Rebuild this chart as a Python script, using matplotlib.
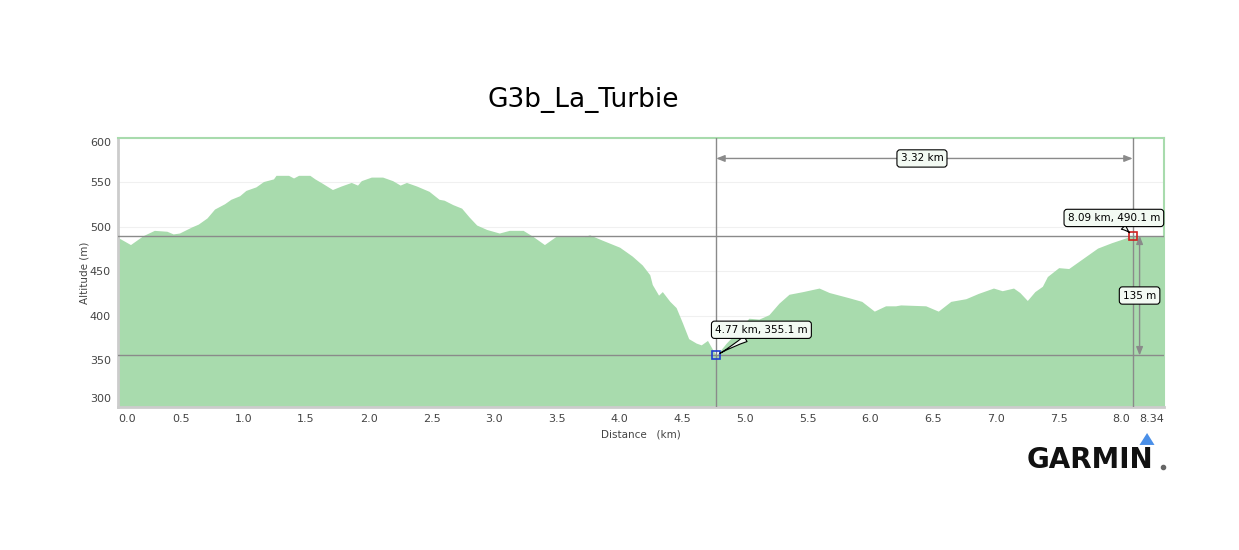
import matplotlib.pyplot as plt
from matplotlib.patches import Polygon

# Elevation profile
dist_km = [0.00, 0.10, 0.20, 0.29, 0.39, 0.44, 0.49, 0.59, 0.64, 0.71, 0.77, 0.85,
           0.90, 0.97, 1.02, 1.10, 1.16, 1.24, 1.26, 1.36, 1.40, 1.44, 1.53, 1.57,
           1.63, 1.71, 1.78, 1.86, 1.91, 1.94, 2.02, 2.11, 2.19, 2.25, 2.30, 2.38,
           2.48, 2.56, 2.60, 2.67, 2.74, 2.80, 2.86, 2.94, 3.04, 3.12, 3.23, 3.31,
           3.40, 3.49, 3.65, 3.72, 3.76, 3.86, 4.00, 4.10, 4.18, 4.24, 4.26, 4.31,
           4.34, 4.40, 4.45, 4.50, 4.55, 4.61, 4.65, 4.70, 4.74, 4.77, 4.85, 4.95,
           5.03, 5.11, 5.19, 5.27, 5.35, 5.46, 5.59, 5.67, 5.83, 5.93, 6.03, 6.12,
           6.20, 6.24, 6.44, 6.54, 6.64, 6.76, 6.86, 6.98, 7.05, 7.14, 7.19, 7.25,
           7.31, 7.37, 7.41, 7.50, 7.58, 7.66, 7.74, 7.81, 7.92, 8.09, 8.16, 8.34]
alt_m = [488, 480, 490, 496, 495, 492, 493, 500, 503, 510, 520, 526,
         531, 535, 541, 545, 551, 554, 558, 558, 555, 558, 558, 554,
         549, 542, 546, 550, 547, 552, 556, 556, 552, 547, 550, 546,
         540, 531, 530, 525, 521, 511, 502, 497, 493, 496, 496, 489,
         480, 489, 489, 489, 491, 485, 477, 467, 457, 446, 435, 423,
         427, 416, 409, 392, 374, 369, 367, 372, 362, 355.1, 369, 384,
         397, 396, 401, 414, 424, 427, 431, 426, 420, 416, 405, 411,
         411, 412, 411, 405, 416, 419, 425, 431, 428, 431, 426, 417,
         427, 433, 444, 454, 453, 461, 469, 476, 482, 490.1, 489, 489]

x_ticks = [0.0, 0.5, 1.0, 1.5, 2.0, 2.5, 3.0, 3.5, 4.0, 4.5, 5.0, 5.5, 6.0, 6.5,
           7.0, 7.5, 8.0, 8.34]
y_ticks = [300, 350, 400, 450, 500, 550, 600]

# Measurement between the two selected points
start_km, start_alt = 4.77, 355.1
end_km, end_alt = 8.09, 490.1

FILL_COLOR = '#a8dbad'
GUIDE_COLOR = '#8a8a8a'
BOX_COLOR = '#f3faf3'

plt.rcParams['font.family'] = ['DejaVu Sans']

fig = plt.figure(figsize=(12.39, 5.5), dpi=100)
ax = fig.add_axes([0.0952, 0.26, 0.8443, 0.489])

ax.fill_between(dist_km, alt_m, 290, color=FILL_COLOR, lw=0)
ax.set_xlim(0, 8.34)
ax.set_ylim(297, 600)

ax.set_xticks(x_ticks)
ax.set_xticklabels([f'{t:.1f}' if t != 8.34 else '8.34' for t in x_ticks])
ax.set_yticks(y_ticks)
ax.tick_params(length=0, labelsize=8, labelcolor='#444444', pad=5)
# keep the end labels inside the plot span, as in the original
xl = ax.get_xticklabels()
xl[0].set_ha('left')
xl[-1].set_ha('right')
yl = ax.get_yticklabels()
yl[0].set_va('bottom')
yl[-1].set_va('top')

ax.yaxis.grid(True, color='#f0f0f0', lw=0.8)
ax.set_axisbelow(True)

for side in ['left', 'bottom']:
    ax.spines[side].set_color('#cccccc')
    ax.spines[side].set_linewidth(2)
for side in ['top', 'right']:
    ax.spines[side].set_color(FILL_COLOR)
    ax.spines[side].set_linewidth(1.5)

ax.set_xlabel('Distance   (km)', fontsize=7.5, color='#444444', labelpad=4)
ax.set_ylabel('Altitude (m)', fontsize=7.5, color='#444444', labelpad=0)

# Cross-hair guides
for xv in [start_km, end_km]:
    ax.axvline(xv, color=GUIDE_COLOR, lw=1, zorder=3)
for yv in [start_alt, end_alt]:
    ax.axhline(yv, color=GUIDE_COLOR, lw=1, zorder=3)

# Point markers
ax.plot(start_km, start_alt, 's', ms=6, mfc='none', mec='#1f3fd0', mew=1.2, zorder=5)
ax.plot(end_km, end_alt, 's', ms=6, mfc='none', mec='#d02020', mew=1.2, zorder=5)

box = dict(boxstyle='round,pad=0.35,rounding_size=0.3', fc=BOX_COLOR, ec='black', lw=0.8)
wedge = dict(arrowstyle='wedge,tail_width=0.6,shrink_factor=0.3', fc=BOX_COLOR,
             ec='black', lw=0.8, shrinkA=0, shrinkB=3)

ax.annotate(f'{start_km:.2f} km, {start_alt:.1f} m', xy=(start_km, start_alt),
            xytext=(5.13, 384), ha='center', va='center', fontsize=7.5,
            bbox=box, arrowprops=wedge, zorder=6)
ax.annotate(f'{end_km:.2f} km, {end_alt:.1f} m', xy=(end_km, end_alt),
            xytext=(7.94, 510), ha='center', va='center', fontsize=7.5,
            bbox=box, arrowprops=wedge, zorder=6)

# Distance dimension
dim_y = 577
ax.annotate('', xy=(start_km, dim_y), xytext=(end_km, dim_y),
            arrowprops=dict(arrowstyle='<|-|>,head_length=0.5,head_width=0.2',
                            color=GUIDE_COLOR, lw=1, shrinkA=0, shrinkB=0), zorder=4)
ax.text((start_km + end_km) / 2 - 0.02, dim_y, f'{end_km - start_km:.2f} km',
        ha='center', va='center', fontsize=7.5, bbox=box, zorder=6)

# Height dimension
dim_x = 8.145
ax.annotate('', xy=(dim_x, end_alt), xytext=(dim_x, start_alt),
            arrowprops=dict(arrowstyle='<|-|>,head_length=0.5,head_width=0.2',
                            color=GUIDE_COLOR, lw=1, shrinkA=0, shrinkB=0), zorder=4)
ax.text(dim_x, (start_alt + end_alt) / 2, f'{end_alt - start_alt:.0f} m',
        ha='center', va='center', fontsize=7.5, bbox=box, zorder=6)

fig.text(0.471, 0.818, 'G3b_La_Turbie', ha='center', va='center', fontsize=19)

# Garmin mark
fig.text(0.8797, 0.1636, 'GARMIN', ha='center', va='center', fontsize=20,
         fontweight='bold', color='#111111')
fig.add_artist(plt.Line2D([0.9385], [0.1515], marker='o', ms=3, color='#666666',
                          transform=fig.transFigure))
fig.patches.append(Polygon([[0.9258, 0.2127], [0.9318, 0.191], [0.9197, 0.191]],
                           closed=True, transform=fig.transFigure,
                           fc='#4a8fe8', ec='none'))

fig.savefig('out.png', dpi=100)
